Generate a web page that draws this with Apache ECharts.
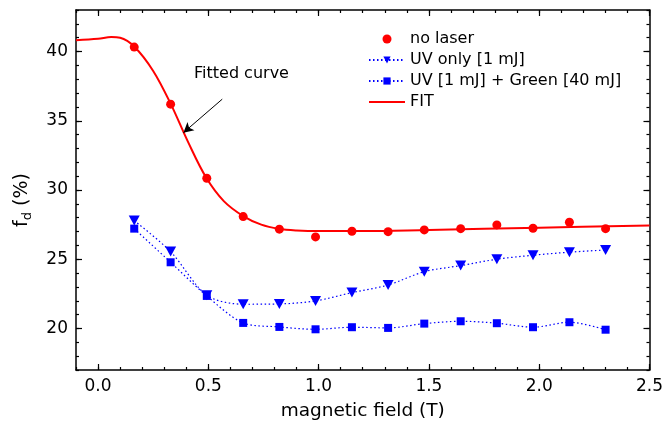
<!DOCTYPE html>
<html>
<head>
<meta charset="utf-8">
<script src="https://cdn.jsdelivr.net/npm/echarts@6/dist/echarts.min.js"></script>
<style>
  html, body { margin: 0; padding: 0; background: #fff; }
  #chart { width: 666px; height: 430px; }
</style>
</head>
<body>
<div id="chart"></div>
<script>
// Magnetic field values (T) shared by all measured series
const fieldT = [0.164, 0.329, 0.493, 0.658, 0.822, 0.986, 1.151, 1.315, 1.479, 1.644, 1.808, 1.972, 2.137, 2.301];
// f_d (%) for each condition
const noLaser = [40.32, 36.20, 30.85, 28.08, 27.17, 26.61, 27.02, 26.99, 27.12, 27.21, 27.48, 27.24, 27.67, 27.21];
const uvOnly = [27.79, 25.55, 22.40, 21.75, 21.77, 21.99, 22.59, 23.14, 24.10, 24.54, 25.00, 25.29, 25.51, 25.67];
const uvGreen = [27.21, 24.78, 22.35, 20.40, 20.11, 19.94, 20.09, 20.04, 20.35, 20.52, 20.38, 20.09, 20.45, 19.91];
// Fit curve samples
const fitX = [-0.1, 0.0, 0.06, 0.10, 0.165, 0.25, 0.33, 0.41, 0.49, 0.57, 0.66, 0.74, 0.82, 0.90, 1.0, 1.2, 1.5, 2.0, 2.5];
const fitY = [40.82, 40.92, 41.05, 41.0, 40.35, 38.6, 36.2, 33.4, 30.9, 29.2, 28.1, 27.5, 27.2, 27.08, 27.03, 27.03, 27.12, 27.28, 27.43];
// Axis ticks
const xMajorTicks = [0, 0.5, 1.0, 1.5, 2.0, 2.5];
const yMajorTicks = [20, 25, 30, 35, 40];
// Annotation arrow: tail and head in data coordinates
const arrowTail = [0.563, 36.56];
const arrowHead = [0.387, 34.14];

const FONT = '"DejaVu Sans", sans-serif';
const pair = (xs, ys) => xs.map((x, i) => [x, ys[i]]);

const axisLine = { show: true, onZero: false, lineStyle: { color: '#000', width: 1.5 } };
const noLine = { show: false, onZero: false };

function xAxisDef(position, major, withLabels) {
  const a = {
    type: 'value', min: -0.1, max: 2.5, position: position,
    splitLine: { show: false },
    axisLine: major ? axisLine : noLine,
    axisTick: major
      ? { inside: true, length: 6, customValues: xMajorTicks, lineStyle: { color: '#000', width: 1.2 } }
      : { inside: true, length: 3, lineStyle: { color: '#000', width: 1.2 } },
    axisLabel: { show: false }
  };
  if (!major) a.interval = 0.1;
  if (withLabels) {
    a.axisLabel = {
      show: true, customValues: xMajorTicks, color: '#000', fontSize: 17, fontFamily: FONT, margin: 8,
      formatter: v => v.toFixed(1)
    };
    a.name = 'magnetic field (T)';
    a.nameLocation = 'middle';
    a.nameGap = 32;
    a.nameTextStyle = { color: '#000', fontSize: 18.5, fontFamily: FONT };
  }
  return a;
}

function yAxisDef(position, major, withLabels) {
  const a = {
    type: 'value', min: 17, max: 43, position: position,
    splitLine: { show: false },
    axisLine: major ? axisLine : noLine,
    axisTick: major
      ? { inside: true, length: 6, customValues: yMajorTicks, lineStyle: { color: '#000', width: 1.2 } }
      : { inside: true, length: 3, lineStyle: { color: '#000', width: 1.2 } },
    axisLabel: { show: false }
  };
  if (!major) a.interval = 1;
  if (withLabels) {
    a.axisLabel = {
      show: true, customValues: yMajorTicks, color: '#000', fontSize: 17, fontFamily: FONT, margin: 8
    };
  }
  return a;
}

const chart = echarts.init(document.getElementById('chart'), null, { renderer: 'canvas' });

const option = {
  animation: false,
  backgroundColor: '#fff',
  grid: { left: 76, right: 15, top: 10, bottom: 60, containLabel: false },
  xAxis: [
    xAxisDef('bottom', true, true),
    xAxisDef('bottom', false, false),
    xAxisDef('top', true, false),
    xAxisDef('top', false, false)
  ],
  yAxis: [
    yAxisDef('left', true, true),
    yAxisDef('left', false, false),
    yAxisDef('right', true, false),
    yAxisDef('right', false, false)
  ],
  legend: {
    orient: 'vertical', left: 363, top: 26,
    itemWidth: 36, itemHeight: 9, itemGap: 5,
    textStyle: { color: '#000', fontSize: 16, fontFamily: FONT },
    data: [
      { name: 'no laser' },
      { name: 'UV only [1 mJ]' },
      { name: 'UV [1 mJ] + Green [40 mJ]' },
      { name: 'FIT', itemStyle: { opacity: 0 } }
    ]
  },
  graphic: [
    {
      type: 'text', left: 194, top: 66,
      style: { text: 'Fitted curve', fill: '#000', font: '16px ' + FONT }
    },
    {
      type: 'text', x: 22, y: 200, rotation: Math.PI / 2,
      style: {
        text: '{m|f}{s|d}{m| (%)}',
        align: 'center', verticalAlign: 'middle',
        rich: {
          m: { fontSize: 19, fontFamily: FONT, fill: '#000', lineHeight: 24, verticalAlign: 'middle' },
          s: { fontSize: 13, fontFamily: FONT, fill: '#000', lineHeight: 24, verticalAlign: 'bottom', padding: [10, 0, 0, 0] }
        }
      }
    }
  ],
  series: [
    {
      name: 'FIT', type: 'line', smooth: 0.35,
      xAxisIndex: 0, yAxisIndex: 0,
      data: pair(fitX, fitY),
      symbol: 'none', showSymbol: false,
      lineStyle: { color: '#ff0000', width: 2 },
      itemStyle: { color: '#ff0000' },
      z: 2,
      markLine: {
        silent: true, animation: false,
        symbol: ['none', 'arrow'], symbolSize: [8, 10],
        label: { show: false },
        lineStyle: { color: '#000', width: 1, type: 'solid' },
        data: [[{ coord: arrowTail }, { coord: arrowHead }]]
      }
    },
    {
      name: 'UV only [1 mJ]', type: 'line', smooth: 0.3,
      xAxisIndex: 0, yAxisIndex: 0,
      data: pair(fieldT, uvOnly),
      symbol: 'path://M0,0 L10,0 L5,8.7 Z', symbolSize: [11, 10],
      lineStyle: { color: '#0000ff', width: 1.2, type: [1.5, 2.5] },
      itemStyle: { color: '#0000ff' },
      z: 3
    },
    {
      name: 'UV [1 mJ] + Green [40 mJ]', type: 'line', smooth: 0.3,
      xAxisIndex: 0, yAxisIndex: 0,
      data: pair(fieldT, uvGreen),
      symbol: 'rect', symbolSize: 8,
      lineStyle: { color: '#0000ff', width: 1.2, type: [1.5, 2.5] },
      itemStyle: { color: '#0000ff' },
      z: 4
    },
    {
      name: 'no laser', type: 'scatter',
      xAxisIndex: 0, yAxisIndex: 0,
      data: pair(fieldT, noLaser),
      symbol: 'circle', symbolSize: 9,
      itemStyle: { color: '#ff0000', opacity: 1 },
      z: 5
    }
  ]
};

chart.setOption(option);
</script>
</body>
</html>
